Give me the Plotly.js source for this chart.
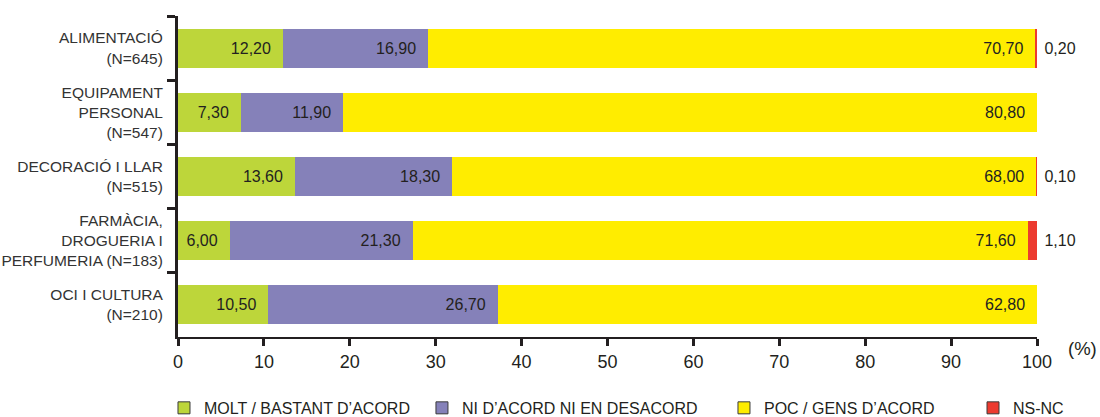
<!DOCTYPE html>
<html>
<head>
<meta charset="utf-8">
<script src="https://cdn.plot.ly/plotly-3.0.1.min.js"></script>
<style>html,body{margin:0;padding:0;background:#fff;}#chart{width:1100px;height:417px;}</style>
</head>
<body>
<div id="chart"></div>
<script>
const categories = [
  "ALIMENTACIÓ<br>(N=645)",
  "EQUIPAMENT<br>PERSONAL<br>(N=547)",
  "DECORACIÓ I LLAR<br>(N=515)",
  "FARMÀCIA,<br>DROGUERIA I<br>PERFUMERIA (N=183)",
  "OCI I CULTURA<br>(N=210)"
];
const seriesNames = ["MOLT / BASTANT D’ACORD", "NI D’ACORD NI EN DESACORD", "POC / GENS D’ACORD", "NS-NC"];
const moltBastant = [12.2, 7.3, 13.6, 6.0, 10.5];
const niNi = [16.9, 11.9, 18.3, 21.3, 26.7];
const pocGens = [70.7, 80.8, 68.0, 71.6, 62.8];
const nsnc = [0.2, 0, 0.1, 1.1, 0];
const xTicks = [0, 10, 20, 30, 40, 50, 60, 70, 80, 90, 100];

const colors = ["#bdd63a", "#8581b9", "#ffed00", "#ec3a2f"];
const FONT = "Liberation Sans, Arial, Helvetica, sans-serif";
const NB = "\u00a0";

function fmt(v) { return v.toFixed(2).replace(".", ","); }
function insideText(arr) { return arr.map(v => v > 0 ? fmt(v) + NB + NB : ""); }
function outsideText(arr) { return arr.map(v => v > 0 ? NB + fmt(v) : ""); }

const seriesValues = [moltBastant, niNi, pocGens, nsnc];
const traces = seriesValues.map((vals, i) => {
  const isLast = i === seriesValues.length - 1;
  return {
    type: "bar",
    orientation: "h",
    name: seriesNames[i],
    x: vals,
    y: categories,
    marker: { color: colors[i], line: { width: 0 } },
    text: isLast ? outsideText(vals) : insideText(vals),
    textposition: isLast ? "outside" : "inside",
    insidetextanchor: "end",
    constraintext: "none",
    cliponaxis: false,
    textfont: { family: FONT, size: 16, color: "#231f20" },
    showlegend: false,
    hoverinfo: "skip"
  };
});

const legendIds = ["legend", "legend2", "legend3", "legend4"];
seriesNames.forEach((n, i) => {
  traces.push({
    type: "bar",
    orientation: "h",
    name: n,
    x: [null],
    y: [null],
    marker: { color: colors[i], line: { color: "#3a3a3a", width: 1 } },
    showlegend: true,
    legend: legendIds[i],
    hoverinfo: "skip"
  });
});

const legendX = [-0.0163, 0.284, 0.6356, 0.9255];
const layout = {
  width: 1100,
  height: 417,
  margin: { l: 178, r: 63, t: 16, b: 80, autoexpand: false },
  paper_bgcolor: "#ffffff",
  plot_bgcolor: "#ffffff",
  barmode: "stack",
  bargap: 0.39,
  font: { family: FONT, color: "#231f20" },
  xaxis: {
    range: [0, 100],
    tickvals: xTicks,
    ticktext: xTicks.map(String),
    ticks: "outside",
    ticklen: 7,
    tickwidth: 3,
    tickcolor: "#231f20",
    showline: true,
    linewidth: 2,
    linecolor: "#231f20",
    showgrid: false,
    zeroline: false,
    tickfont: { family: FONT, size: 18, color: "#231f20" },
    fixedrange: true
  },
  yaxis: {
    type: "category",
    categoryorder: "array",
    categoryarray: categories,
    autorange: "reversed",
    tickson: "boundaries",
    ticks: "outside",
    ticklen: 8,
    tickwidth: 3,
    tickcolor: "#231f20",
    ticklabelstandoff: 9,
    showline: true,
    linewidth: 3,
    linecolor: "#231f20",
    showgrid: false,
    zeroline: false,
    tickfont: { family: FONT, size: 15.5, color: "#333333" },
    fixedrange: true
  },
  annotations: [{
    text: "(%)",
    xref: "paper", yref: "paper",
    x: 1.034, y: -0.035,
    xanchor: "left", yanchor: "middle",
    showarrow: false,
    font: { family: FONT, size: 18.5, color: "#231f20" }
  }]
};
legendIds.forEach((id, i) => {
  layout[id] = {
    orientation: "h",
    x: legendX[i],
    xanchor: "left",
    y: -0.221,
    yanchor: "middle",
    bgcolor: "rgba(0,0,0,0)",
    borderwidth: 0,
    font: { family: FONT, size: 16, color: "#231f20" }
  };
});

Plotly.newPlot("chart", traces, layout, { staticPlot: true, displayModeBar: false });
</script>
</body>
</html>
